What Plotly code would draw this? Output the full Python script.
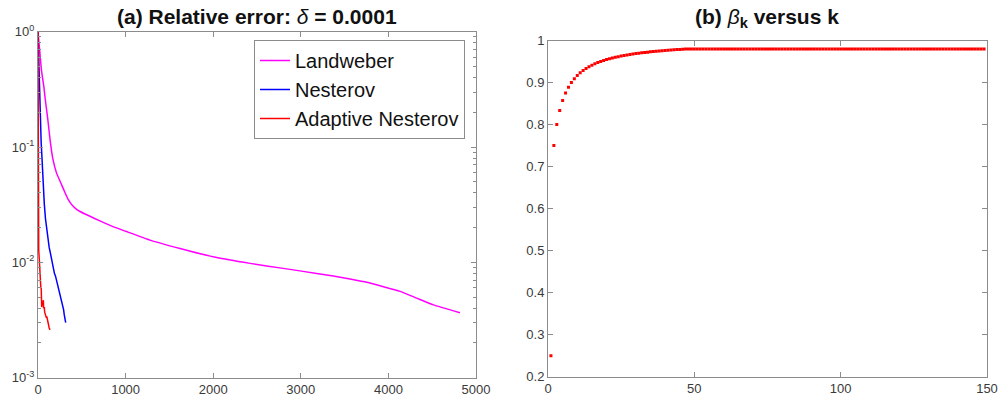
import plotly.graph_objects as go

# ---- (a) relative error histories (iteration, error) ----
landweber_iter = [0, 10, 22, 40, 67, 80, 113, 140, 168, 210, 270, 310, 346, 380, 410, 441,
                  480, 530, 593, 700, 856, 1000, 1278, 1621, 2040, 2420, 2800, 3181, 3371,
                  3562, 3752, 3943, 4133, 4323, 4513, 4817]
landweber_err = [1.0, 0.82, 0.65, 0.46, 0.333, 0.27, 0.171, 0.112, 0.08, 0.06, 0.047, 0.040,
                 0.0350, 0.0320, 0.0302, 0.0288, 0.0276, 0.0264, 0.0251, 0.0230, 0.0204,
                 0.0186, 0.0156, 0.0132, 0.0110, 0.0098, 0.00887, 0.00802, 0.0076, 0.00716,
                 0.00671, 0.00615, 0.00560, 0.00490, 0.00428, 0.00366]

nesterov_iter = [0, 8, 18, 28, 36, 44, 52, 62, 72, 85, 100, 115, 128, 140, 152, 165, 176,
                 188, 200, 212, 222, 232, 242, 252, 262, 272, 282, 292, 300, 308, 316]
nesterov_err = [1.0, 0.55, 0.28, 0.16, 0.11, 0.085, 0.06, 0.042, 0.032, 0.024, 0.019, 0.0158,
                0.0134, 0.0122, 0.0108, 0.0100, 0.0090, 0.0080, 0.0076, 0.0070, 0.0064,
                0.0059, 0.0056, 0.0054, 0.0049, 0.0046, 0.0042, 0.0039, 0.0035, 0.0032, 0.0030]

adaptive_iter = [0, 1, 2, 3, 4, 8, 12, 15, 18, 21, 23, 27, 32, 37, 40, 42, 46, 50, 55, 61,
                 64, 68, 72, 76, 80, 86, 91, 96, 100, 106, 113, 120, 128, 137]
adaptive_err = [1.0, 0.2, 0.06, 0.025, 0.0146, 0.0128, 0.0115, 0.0104, 0.0088, 0.0072,
                0.0063, 0.0066, 0.0061, 0.0059, 0.0052, 0.0041, 0.0043, 0.0046, 0.0044,
                0.0047, 0.0040, 0.0042, 0.0041, 0.0037, 0.0036, 0.0035, 0.0035, 0.0033,
                0.0034, 0.0032, 0.0030, 0.0029, 0.0027, 0.0026]

# ---- (b) momentum parameter beta_k ----
beta_k = [
    0.25, 0.75, 0.8, 0.8333, 0.8571, 0.875, 0.8889, 0.9, 0.9091, 0.9167,
    0.9231, 0.9286, 0.9333, 0.9375, 0.9412, 0.9444, 0.9474, 0.95, 0.9524, 0.9545,
    0.9565, 0.9583, 0.96, 0.9615, 0.963, 0.9643, 0.9655, 0.9667, 0.9677, 0.9688,
    0.9697, 0.9706, 0.9714, 0.9722, 0.973, 0.9737, 0.9744, 0.975, 0.9756, 0.9762,
    0.9767, 0.9773, 0.9778, 0.9783, 0.9787, 0.9792, 0.9796, 0.98, 0.98, 0.98,
    0.98, 0.98, 0.98, 0.98, 0.98, 0.98, 0.98, 0.98, 0.98, 0.98,
    0.98, 0.98, 0.98, 0.98, 0.98, 0.98, 0.98, 0.98, 0.98, 0.98,
    0.98, 0.98, 0.98, 0.98, 0.98, 0.98, 0.98, 0.98, 0.98, 0.98,
    0.98, 0.98, 0.98, 0.98, 0.98, 0.98, 0.98, 0.98, 0.98, 0.98,
    0.98, 0.98, 0.98, 0.98, 0.98, 0.98, 0.98, 0.98, 0.98, 0.98,
    0.98, 0.98, 0.98, 0.98, 0.98, 0.98, 0.98, 0.98, 0.98, 0.98,
    0.98, 0.98, 0.98, 0.98, 0.98, 0.98, 0.98, 0.98, 0.98, 0.98,
    0.98, 0.98, 0.98, 0.98, 0.98, 0.98, 0.98, 0.98, 0.98, 0.98,
    0.98, 0.98, 0.98, 0.98, 0.98, 0.98, 0.98, 0.98, 0.98, 0.98,
    0.98, 0.98, 0.98, 0.98, 0.98, 0.98, 0.98, 0.98, 0.98,
]
k_vals = list(range(1, len(beta_k) + 1))

log_tickvals = [1e-3, 1e-2, 1e-1, 1e0]
log_ticktext = ["10<sup>-3</sup>", "10<sup>-2</sup>", "10<sup>-1</sup>", "10<sup>0</sup>"]
beta_tickvals = [0.2, 0.3, 0.4, 0.5, 0.6, 0.7, 0.8, 0.9, 1.0]
beta_ticktext = ["0.2", "0.3", "0.4", "0.5", "0.6", "0.7", "0.8", "0.9", "1"]

W, H = 1000, 403
AXIS_COLOR = "#8c8c8c"
FONT_FAMILY = "Arial, Liberation Sans, sans-serif"
TICK_FONT = dict(family=FONT_FAMILY, size=13, color="#3a3a3a")

fig = go.Figure()

fig.add_trace(go.Scatter(x=landweber_iter, y=landweber_err, mode="lines", name="Landweber",
                         line=dict(color="#ff00ff", width=1.5, shape="spline", smoothing=0.4),
                         xaxis="x", yaxis="y"))
fig.add_trace(go.Scatter(x=nesterov_iter, y=nesterov_err, mode="lines", name="Nesterov",
                         line=dict(color="#0000ff", width=1.5), xaxis="x", yaxis="y"))
fig.add_trace(go.Scatter(x=adaptive_iter, y=adaptive_err, mode="lines", name="Adaptive Nesterov",
                         line=dict(color="#ff0000", width=1.5), xaxis="x", yaxis="y"))

fig.add_trace(go.Scatter(x=k_vals, y=beta_k, mode="markers", showlegend=False,
                         marker=dict(color="#ff0000", size=3, symbol="square",
                                     line=dict(width=0)),
                         xaxis="x2", yaxis="y2"))

common_axis = dict(showline=True, linecolor=AXIS_COLOR, linewidth=1, mirror="ticks",
                   ticks="inside", ticklen=5, tickcolor=AXIS_COLOR, showgrid=False,
                   zeroline=False, automargin=False, tickfont=TICK_FONT)

fig.update_layout(
    width=W, height=H,
    margin=dict(l=0, r=0, t=0, b=0),
    paper_bgcolor="white", plot_bgcolor="white",
    font=dict(family=FONT_FAMILY),
    xaxis=dict(domain=[38 / W, 476 / W], range=[0, 5000], tickvals=[0, 1000, 2000, 3000, 4000, 5000],
               anchor="y", **common_axis),
    yaxis=dict(domain=[1 - 377.7 / H, 1 - 31.7 / H], type="log", range=[-3, 0],
               tickvals=log_tickvals, ticktext=log_ticktext,
               minor=dict(ticks="inside", ticklen=3, tickcolor=AXIS_COLOR,
                          dtick="D1", showgrid=False),
               anchor="x", **common_axis),
    xaxis2=dict(domain=[548 / W, 987 / W], range=[0, 150], tickvals=[0, 50, 100, 150],
                anchor="y2", **common_axis),
    yaxis2=dict(domain=[1 - 376.7 / H, 1 - 40.5 / H], range=[0.2, 1.0],
                tickvals=beta_tickvals, ticktext=beta_ticktext,
                anchor="x2", **common_axis),
    legend=dict(x=465 / W, y=1 - 40 / H, xanchor="right", yanchor="top",
                bgcolor="white", bordercolor="#8c8c8c", borderwidth=1,
                font=dict(family=FONT_FAMILY, size=20, color="#111111"),
                tracegroupgap=0),
    showlegend=True,
)

title_font = dict(family=FONT_FAMILY, size=21, color="#111111")
fig.add_annotation(text="<b>(a) Relative error: </b><i>δ</i><b> = 0.0001</b>",
                   x=257 / W, y=1 - 17 / H, xref="paper", yref="paper",
                   xanchor="center", yanchor="middle", showarrow=False, font=title_font)
fig.add_annotation(text="<b>(b) </b><i>β</i><sub><b>k</b></sub><b> versus k</b>",
                   x=767 / W, y=1 - 18 / H, xref="paper", yref="paper",
                   xanchor="center", yanchor="middle", showarrow=False, font=title_font)

fig.write_html("out.html")
